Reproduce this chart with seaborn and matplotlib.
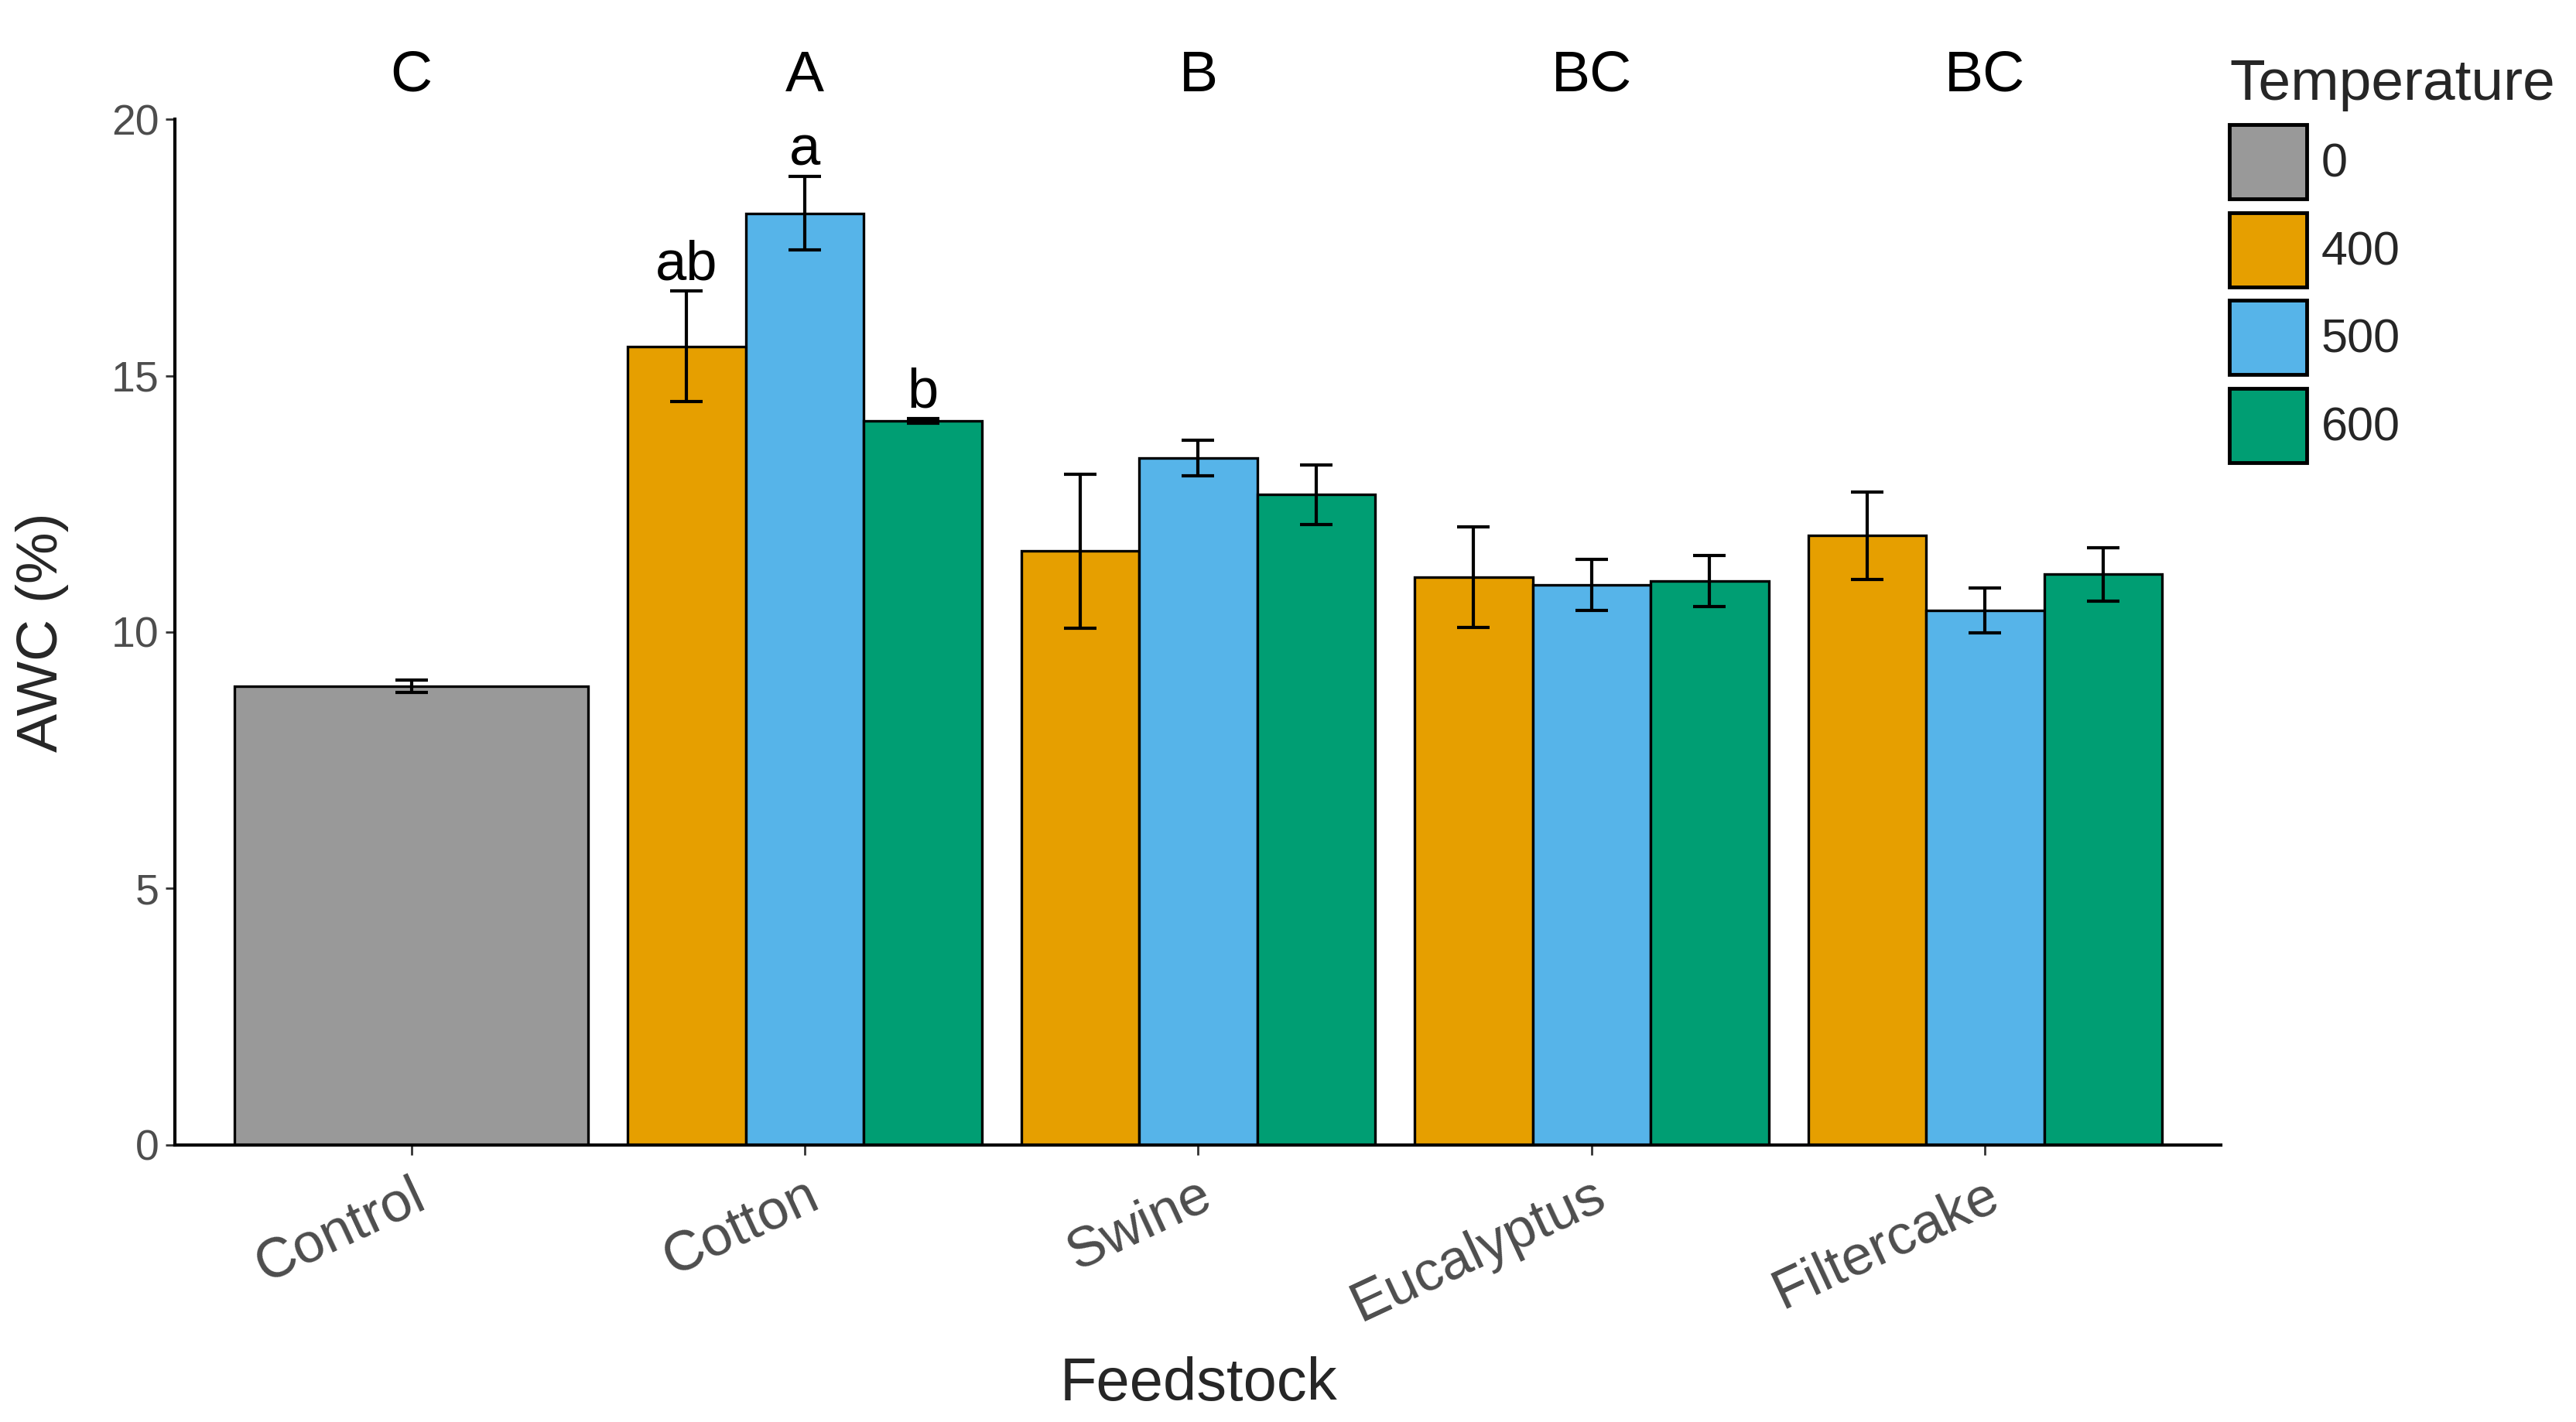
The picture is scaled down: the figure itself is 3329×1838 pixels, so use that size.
import pandas as pd
import numpy as np
import matplotlib
matplotlib.use('Agg')
import matplotlib.pyplot as plt
import seaborn as sns
from matplotlib.patches import Patch

# Dữ liệu
feedstock = ['Control', 'Cotton', 'Swine', 'Eucalyptus', 'Filtercake']
temperatures = ['0', '400', '500', '600']
colors = ['#999999', '#E69F00', '#56B4E9', '#009E73']
group_letters = ['C', 'A', 'B', 'BC', 'BC']

control_awc = [8.95]
control_se = [0.12]

trt_feedstock = ['Cotton', 'Cotton', 'Cotton', 'Swine', 'Swine', 'Swine',
                 'Eucalyptus', 'Eucalyptus', 'Eucalyptus',
                 'Filtercake', 'Filtercake', 'Filtercake']
trt_temp = ['400', '500', '600'] * 4
trt_awc = [15.57, 18.17, 14.12, 11.58, 13.40, 12.68,
           11.07, 10.92, 11.00, 11.88, 10.42, 11.13]
trt_se = [1.08, 0.72, 0.05, 1.50, 0.35, 0.58,
          0.98, 0.50, 0.50, 0.85, 0.44, 0.52]
trt_letters = ['ab', 'a', 'b', '', '', '', '', '', '', '', '', '']

df_ctrl = pd.DataFrame({'Feedstock': ['Control'], 'AWC': control_awc, 'SE': control_se})
df_trt = pd.DataFrame({'Feedstock': trt_feedstock, 'Temperature': trt_temp,
                       'AWC': trt_awc, 'SE': trt_se, 'Letter': trt_letters})

sns.set_style('white')
plt.rcParams['font.family'] = ['Liberation Sans', 'DejaVu Sans']

fig = plt.figure(figsize=(33.3, 18.38), dpi=100)
ax = fig.add_axes([0.068, 0.195, 0.794, 0.721])

edge_lw = 2.4
sns.barplot(data=df_ctrl, x='Feedstock', y='AWC', order=feedstock, color=colors[0],
            width=0.9, edgecolor='black', linewidth=edge_lw, errorbar=None,
            saturation=1, ax=ax)
palette = dict(zip(temperatures[1:], colors[1:]))
sns.barplot(data=df_trt, x='Feedstock', y='AWC', hue='Temperature', order=feedstock,
            hue_order=temperatures[1:], palette=palette, width=0.9, dodge=True,
            edgecolor='black', linewidth=edge_lw, errorbar=None, saturation=1,
            legend=False, ax=ax)

# Thanh sai số + chữ cái
ctrl_bar = ax.containers[0].patches[0]
xc = ctrl_bar.get_x() + ctrl_bar.get_width() / 2
ax.errorbar(xc, control_awc[0], yerr=control_se[0], fmt='none', ecolor='black',
            elinewidth=3, capsize=15, capthick=3, zorder=5)

for cont, temp in zip(ax.containers[1:], temperatures[1:]):
    sub = df_trt[df_trt['Temperature'] == temp]
    for bar, (_, row) in zip(cont.patches, sub.iterrows()):
        x = bar.get_x() + bar.get_width() / 2
        ax.errorbar(x, row['AWC'], yerr=row['SE'], fmt='none', ecolor='black',
                    elinewidth=3, capsize=15, capthick=3, zorder=5)
        if row['Letter']:
            ax.text(x, row['AWC'] + row['SE'] + 0.22, row['Letter'], ha='center',
                    va='baseline', fontsize=52, color='black')

for xt, lt in zip(ax.get_xticks(), group_letters):
    ax.text(xt, 20.55, lt, ha='center', va='baseline', fontsize=54, color='black',
            clip_on=False)

ax.set_xlim(-0.6, 4.6)
ax.set_ylim(0, 20)
ax.set_yticks([0, 5, 10, 15, 20])
ax.set_xlabel('Feedstock', fontsize=56)
ax.set_ylabel('AWC (%)', fontsize=54)
ax.xaxis.set_label_coords(0.5, -0.206)
ax.yaxis.set_label_coords(-0.052, 0.5)
ax.tick_params(axis='both', direction='out', length=9, width=2, color='#333333',
               labelsize=40, labelcolor='#4D4D4D', left=True, bottom=True, pad=6)
ax.tick_params(axis='x', pad=14)
plt.setp(ax.get_xticklabels(), rotation=25, ha='right', rotation_mode='anchor',
         fontsize=52)

sns.despine(ax=ax)
for sp in ['left', 'bottom']:
    ax.spines[sp].set_linewidth(3)
    ax.spines[sp].set_color('black')

handles = [Patch(facecolor=c, edgecolor='black', linewidth=3.5) for c in colors]
leg = ax.legend(handles, temperatures, title='Temperature', loc='upper left',
                bbox_to_anchor=(1.004, 1.06), frameon=False, fontsize=44,
                title_fontsize=54, handlelength=1.64, handleheight=2.05,
                labelspacing=0.28, handletextpad=0.3, borderaxespad=0,
                borderpad=0)
leg._legend_box.align = 'left'

fig.savefig('out.png', dpi=100)
